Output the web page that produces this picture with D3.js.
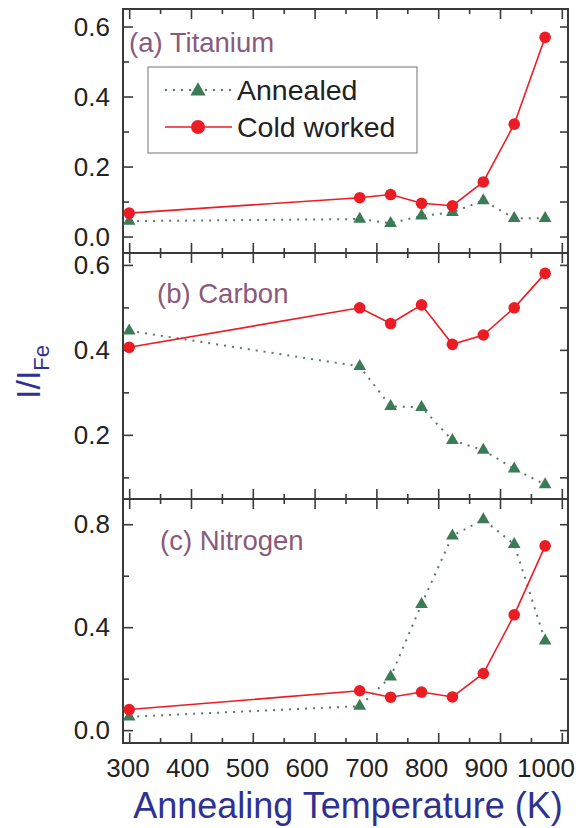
<!DOCTYPE html>
<html>
<head>
<meta charset="utf-8">
<script src="https://cdn.jsdelivr.net/npm/d3@7"></script>
<style>
  html, body { margin: 0; padding: 0; background: #fff; }
  svg { display: block; font-family: "Liberation Sans", Arial, sans-serif; }
</style>
</head>
<body>
<svg id="chart" width="585" height="828"></svg>
<script>
// Annealing temperatures (K)
const temps = [300, 673, 723, 773, 823, 873, 923, 973];

// I/I_Fe ratios per solute element
const tiAnnealed = [0.044, 0.050, 0.038, 0.059, 0.069, 0.103, 0.052, 0.052];
const tiCold     = [0.067, 0.111, 0.120, 0.095, 0.088, 0.156, 0.321, 0.569];
const cAnnealed  = [0.445, 0.361, 0.267, 0.265, 0.187, 0.164, 0.120, 0.083];
const cCold      = [0.406, 0.499, 0.462, 0.506, 0.413, 0.435, 0.499, 0.580];
const nAnnealed  = [0.052, 0.093, 0.207, 0.489, 0.755, 0.818, 0.722, 0.347];
const nCold      = [0.080, 0.153, 0.128, 0.148, 0.129, 0.220, 0.448, 0.716];

// Tick values
const xTicks = [300, 400, 500, 600, 700, 800, 900, 1000];
const xMinor = [350, 450, 550, 650, 750, 850, 950];
const tiTicks = [0.0, 0.2, 0.4, 0.6];
const tiMinor = [0.1, 0.3, 0.5];
const cTicks = [0.2, 0.4, 0.6];
const cMinor = [0.1, 0.3, 0.5];
const nTicks = [0.0, 0.4, 0.8];
const nMinor = [0.2, 0.6];

const panelLabels = ["(a) Titanium", "(b) Carbon", "(c) Nitrogen"];
const seriesNames = ["Annealed", "Cold worked"];

const RED = "#ec1c24";
const GREEN = "#3b7b55";
const DOT = "#5e7868";
const FRAME = "#3a3a3a";
const LABEL = "#8a5a7c";
const BLUE = "#2e3192";

const svg = d3.select("#chart");
const left = 123, right = 568;

const x = d3.scaleLinear().domain([290, 1010]).range([left, right]);
// tick labels sit on a slightly tighter spacing so "1000" stays inside the page
const xLab = d3.scaleLinear().domain([300, 1000]).range([128, 546]);

const panels = [
  { top: 9,   bottom: 253, domain: [-0.047, 0.65], ticks: tiTicks, minor: tiMinor,
    annealed: tiAnnealed, cold: tiCold, label: panelLabels[0], lx: 129, ly: 52 },
  { top: 253, bottom: 499, domain: [0.049, 0.628], ticks: cTicks, minor: cMinor,
    annealed: cAnnealed, cold: cCold, label: panelLabels[1], lx: 157, ly: 303 },
  { top: 499, bottom: 743, domain: [-0.05, 0.898], ticks: nTicks, minor: nMinor,
    annealed: nAnnealed, cold: nCold, label: panelLabels[2], lx: 160, ly: 550 }
];

const tri = d3.symbol().type(d3.symbolTriangle).size(70);

panels.forEach((p, i) => {
  const y = d3.scaleLinear().domain(p.domain).range([p.bottom, p.top]);
  const g = svg.append("g");

  // inward ticks on all four sides
  const axL = d3.axisRight(y).tickValues(p.ticks).tickSize(10).tickFormat("");
  const axLm = d3.axisRight(y).tickValues(p.minor).tickSize(6).tickFormat("");
  const axR = d3.axisLeft(y).tickValues(p.ticks).tickSize(8).tickFormat("");
  const axRm = d3.axisLeft(y).tickValues(p.minor).tickSize(8).tickFormat("");
  const axB = d3.axisTop(x).tickValues(xTicks).tickSize(10).tickFormat("");
  const axBm = d3.axisTop(x).tickValues(xMinor).tickSize(5).tickFormat("");
  const axT = d3.axisBottom(x).tickValues(xTicks).tickSize(10).tickFormat("");
  const axTm = d3.axisBottom(x).tickValues(xMinor).tickSize(5).tickFormat("");

  [[axL, `translate(${left},0)`], [axLm, `translate(${left},0)`],
   [axR, `translate(${right},0)`], [axRm, `translate(${right},0)`],
   [axB, `translate(0,${p.bottom})`], [axBm, `translate(0,${p.bottom})`],
   [axT, `translate(0,${p.top})`], [axTm, `translate(0,${p.top})`]].forEach(([ax, t]) => {
    const a = g.append("g").attr("transform", t).call(ax);
    a.select(".domain").remove();
    a.selectAll("line").attr("stroke", FRAME).attr("stroke-width", 1.6);
  });

  // y tick labels
  g.append("g").selectAll("text").data(p.ticks).join("text")
    .attr("x", 110).attr("y", d => y(d)).attr("dy", "0.35em")
    .attr("text-anchor", "end").attr("font-size", 26).attr("fill", "#222")
    .text(d => d3.format(".1f")(d));

  // frame
  g.append("rect").attr("x", left).attr("y", p.top)
    .attr("width", right - left).attr("height", p.bottom - p.top)
    .attr("fill", "none").attr("stroke", FRAME).attr("stroke-width", 2);

  // panel title
  g.append("text").attr("x", p.lx).attr("y", p.ly)
    .attr("font-size", 27.5).attr("fill", LABEL).text(p.label);

  const line = d3.line().x((d, k) => x(temps[k])).y(d => y(d));

  // annealed: dotted line with triangles
  g.append("path").datum(p.annealed).attr("d", line)
    .attr("fill", "none").attr("stroke", DOT).attr("stroke-width", 2)
    .attr("stroke-dasharray", "2,6").attr("stroke-linecap", "butt");
  g.append("g").selectAll("path").data(p.annealed).join("path")
    .attr("d", tri)
    .attr("transform", (d, k) => `translate(${x(temps[k])},${y(d)})`)
    .attr("fill", GREEN);

  // cold worked: solid line with circles
  g.append("path").datum(p.cold).attr("d", line)
    .attr("fill", "none").attr("stroke", RED).attr("stroke-width", 1.6);
  g.append("g").selectAll("circle").data(p.cold).join("circle")
    .attr("cx", (d, k) => x(temps[k])).attr("cy", d => y(d))
    .attr("r", 5.8).attr("fill", RED);
});

// x tick labels
svg.append("g").selectAll("text").data(xTicks).join("text")
  .attr("x", d => xLab(d)).attr("y", 777)
  .attr("text-anchor", "middle").attr("font-size", 26).attr("fill", "#222")
  .text(d => d);

// axis titles
svg.append("text").attr("x", 348).attr("y", 818)
  .attr("text-anchor", "middle").attr("font-size", 36).attr("fill", BLUE)
  .text("Annealing Temperature (K)");

const yt = svg.append("text")
  .attr("transform", "translate(40,372) rotate(-90)")
  .attr("text-anchor", "middle").attr("font-size", 34).attr("fill", BLUE);
yt.append("tspan").text("I/I");
yt.append("tspan").attr("font-size", 22).attr("dy", 9).text("Fe");

// legend
const lg = svg.append("g");
lg.append("rect").attr("x", 148).attr("y", 67).attr("width", 269).attr("height", 86)
  .attr("fill", "#fff").attr("stroke", "#8a8a8a").attr("stroke-width", 1.2);
lg.append("line").attr("x1", 165).attr("x2", 232).attr("y1", 90).attr("y2", 90)
  .attr("stroke", DOT).attr("stroke-width", 2).attr("stroke-dasharray", "2,6");
lg.append("path").attr("d", d3.symbol().type(d3.symbolTriangle).size(100))
  .attr("transform", "translate(198,91)").attr("fill", GREEN);
lg.append("line").attr("x1", 165).attr("x2", 232).attr("y1", 127).attr("y2", 127)
  .attr("stroke", RED).attr("stroke-width", 1.6);
lg.append("circle").attr("cx", 198).attr("cy", 127).attr("r", 7).attr("fill", RED);
lg.selectAll("text.lt").data(seriesNames).join("text")
  .attr("class", "lt")
  .attr("x", 237).attr("y", (d, k) => 100 + k * 37)
  .attr("font-size", 28.5).attr("fill", "#222").text(d => d);
</script>
</body>
</html>
